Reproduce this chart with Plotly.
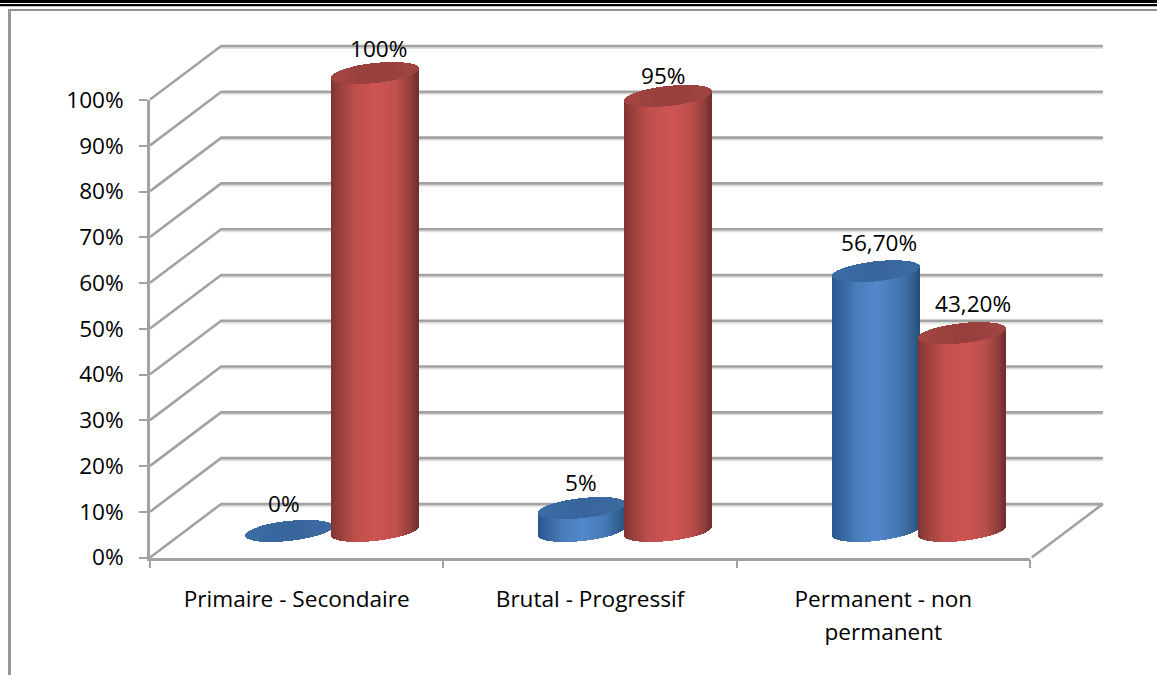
import numpy as np
import plotly.graph_objects as go

categories = ["Primaire - Secondaire", "Brutal - Progressif", "Permanent - non<br>permanent"]
y_ticks = [0, 10, 20, 30, 40, 50, 60, 70, 80, 90, 100]
blue_values = [0, 5, 56.7]
red_values = [100, 95, 43.2]
blue_labels = ["0%", "5%", "56,70%"]
red_labels = ["100%", "95%", "43,20%"]

W, H = 1157, 675
FONT = "Open Sans"
TXT = 22.6
GRID = "#a2a2a2"
GRID_SHADOW = "#dedede"
GRID_W = 2.6


def dom_x(a, b):
    return [a / W, b / W]


def dom_y(top, bottom):
    return [1 - bottom / H, 1 - top / H]


# plot planes in pixels: back wall, front axes and the mid plane where the cylinders stand
BACK = (221, 1103, 46, 504)
FRONT = (150, 1030, 100, 557.5)
MID = (184.5, 1065.5, 73, 531)
PX_X = (FRONT[1] - FRONT[0]) / 3
PX_Y = (FRONT[3] - FRONT[2]) / 100
DEPTH_X = (BACK[0] - FRONT[0]) / PX_X
DEPTH_Y = (FRONT[3] - BACK[3]) / PX_Y
PAD_L, PAD_R, PAD_T, PAD_B = 90, 50, 30, 70   # extra drawing room, pixels

BAR_OFFSET = 43 / PX_X
RADIUS = 43.5 / PX_X
MINOR_PX = 10 / PX_Y
TILT_PX = 4.6 / PX_Y
STRIPS = 88

RED_STOPS = [(0, "#7f3533"), (0.06, "#903c3a"), (0.28, "#bf4f4c"), (0.52, "#cf5553"),
             (0.76, "#bd504d"), (0.93, "#8e3d3b"), (1, "#6f2f2e")]
BLUE_STOPS = [(0, "#2a568c"), (0.06, "#315f98"), (0.28, "#4a7dbb"), (0.52, "#5389cb"),
              (0.76, "#4579b5"), (0.93, "#33618f"), (1, "#284f7c")]
RED_TOP = [(0, "#a54644"), (0.5, "#973f3d"), (1, "#a04543")]
BLUE_TOP = [(0, "#3d6da8"), (0.5, "#37659c"), (1, "#3d6ca3")]


def hex_rgb(c):
    return np.array([int(c[i:i + 2], 16) for i in (1, 3, 5)], float)


def shade(stops, t):
    xs = [s[0] for s in stops]
    ch = [np.interp(t, xs, [hex_rgb(s[1])[k] for s in stops]) for k in range(3)]
    return "rgb(%d,%d,%d)" % tuple(ch)


def padded_axes(plane, anchor_x, anchor_y):
    l, r, t, b = plane
    hidden = dict(showticklabels=False, ticks="", showline=False, zeroline=False, showgrid=False)
    ax_x = dict(domain=dom_x(l - PAD_L, r + PAD_R), range=[-0.5 - PAD_L / PX_X, 2.5 + PAD_R / PX_X],
                anchor=anchor_y, **hidden)
    ax_y = dict(domain=dom_y(t - PAD_T, b + PAD_B), range=[-PAD_B / PX_Y, 100 + PAD_T / PX_Y],
                anchor=anchor_x, **hidden)
    return ax_x, ax_y


fig = go.Figure()


def cylinder(group, value, side, stops, top_stops):
    u = (np.arange(STRIPS) + 0.5) / STRIPS * 2 - 1
    half = MINOR_PX * np.sqrt(1 - u ** 2)
    lower = TILT_PX * u - half
    xs = group + side * BAR_OFFSET + u * RADIUS
    w = 1.35 * 2 * RADIUS / STRIPS
    t = (u + 1) / 2
    if value > 0:
        fig.add_bar(x=xs, y=[value] * STRIPS, base=lower, width=w, xaxis="x3", yaxis="y3",
                    marker=dict(color=[shade(stops, v) for v in t], line_width=0),
                    hoverinfo="skip", showlegend=False)
    fig.add_bar(x=xs, y=2 * half, base=value + lower, width=w, xaxis="x3", yaxis="y3",
                marker=dict(color=[shade(top_stops, v) for v in t], line_width=0),
                hoverinfo="skip", showlegend=False)


# soft shadow beneath the wall lines
for v in y_ticks:
    fig.add_scatter(x=[-0.5, 2.5], y=[v - 2 / PX_Y, v - 2 / PX_Y], mode="lines", xaxis="x", yaxis="y",
                    line=dict(color=GRID_SHADOW, width=2), hoverinfo="skip", showlegend=False)

# back wall: each gridline runs from the front axis, back, then across the wall
for v in y_ticks:
    fig.add_scatter(x=[-0.5 - DEPTH_X, -0.5, 2.5], y=[v - DEPTH_Y, v, v],
                    mode="lines", xaxis="x", yaxis="y",
                    line=dict(color=GRID, width=GRID_W), hoverinfo="skip", showlegend=False)
fig.add_scatter(x=[2.5, 2.5 - DEPTH_X], y=[0, -DEPTH_Y], mode="lines", xaxis="x", yaxis="y",
                line=dict(color=GRID, width=GRID_W), hoverinfo="skip", showlegend=False)

# front axes need at least one trace
fig.add_scatter(x=[0], y=[0], mode="markers", marker=dict(opacity=0), xaxis="x2", yaxis="y2",
                hoverinfo="skip", showlegend=False)

for i, v in enumerate(blue_values):
    cylinder(i, v, -1, BLUE_STOPS, BLUE_TOP)
for i, v in enumerate(red_values):
    cylinder(i, v, 1, RED_STOPS, RED_TOP)

# value labels, anchored on each cylinder's top
label_shift_x = {"blue": [-4, -1, 3], "red": [4, -5, 11]}
label_shift_y = {"blue": [27, 26, 29], "red": [25, 20, 30]}
annotations = []
for name, vals, labs, side in (("blue", blue_values, blue_labels, -1), ("red", red_values, red_labels, 1)):
    for i, (v, lab) in enumerate(zip(vals, labs)):
        annotations.append(dict(x=i + side * BAR_OFFSET, y=v, xref="x3", yref="y3", text=lab,
                                showarrow=False, xanchor="center", yanchor="middle",
                                xshift=label_shift_x[name][i], yshift=label_shift_y[name][i],
                                font=dict(family=FONT, size=TXT, color="#000000")))

shapes = [
    dict(type="rect", xref="paper", yref="paper", x0=0, x1=1, y0=1 - 3 / H, y1=1, fillcolor="black", line_width=0),
    dict(type="rect", xref="paper", yref="paper", x0=0, x1=1, y0=1 - 6.3 / H, y1=1 - 4 / H, fillcolor="black", line_width=0),
    dict(type="rect", xref="paper", yref="paper", x0=8 / W, x1=1, y0=1 - 11 / H, y1=1 - 9 / H, fillcolor="#8f8f8f", line_width=0),
    dict(type="rect", xref="paper", yref="paper", x0=8 / W, x1=11 / W, y0=0, y1=1 - 9 / H, fillcolor="#969696", line_width=0),
]

x_labels = ['<span style="font-size:%spx">%s</span>' % (TXT, c.replace("<br>", "</span><br><span style=\"font-size:%spx\">" % TXT))
            for c in categories]

back_x, back_y = padded_axes(BACK, "x", "y")
mid_x, mid_y = padded_axes(MID, "x3", "y3")

fig.update_layout(
    width=W, height=H, margin=dict(l=0, r=0, t=0, b=0, pad=0, autoexpand=False), autosize=False,
    paper_bgcolor="white", plot_bgcolor="rgba(0,0,0,0)", showlegend=False,
    barmode="overlay", bargap=0, shapes=shapes, annotations=annotations,
    xaxis=back_x, yaxis=back_y,
    xaxis2=dict(domain=dom_x(FRONT[0], FRONT[1]), range=[-0.5, 2.5], anchor="y2",
                tickmode="array", tickvals=[0, 1, 2], ticktext=x_labels, ticks="",
                tickangle=0, automargin=False,
                tickfont=dict(family=FONT, size=25.4, color="#000000"),
                ticklabelstandoff=16,
                showline=True, linecolor=GRID, linewidth=GRID_W, showgrid=False, zeroline=False,
                minor=dict(tickmode="array", tickvals=[-0.5, 0.5, 1.5, 2.5], ticks="outside",
                           ticklen=8, tickwidth=2, tickcolor=GRID)),
    yaxis2=dict(domain=dom_y(FRONT[2], FRONT[3]), range=[0, 100], anchor="x2",
                tickmode="array", tickvals=y_ticks, ticktext=["%d%%" % v for v in y_ticks],
                ticks="outside", ticklen=8, tickwidth=2, tickcolor=GRID, automargin=False,
                tickfont=dict(family=FONT, size=TXT, color="#000000"), ticklabelstandoff=11,
                showline=True, linecolor=GRID, linewidth=GRID_W, showgrid=False, zeroline=False),
    xaxis3=mid_x, yaxis3=mid_y,
)

fig.write_html("out.html", post_script="document.body.style.margin='0';", config=dict(displayModeBar=False))
